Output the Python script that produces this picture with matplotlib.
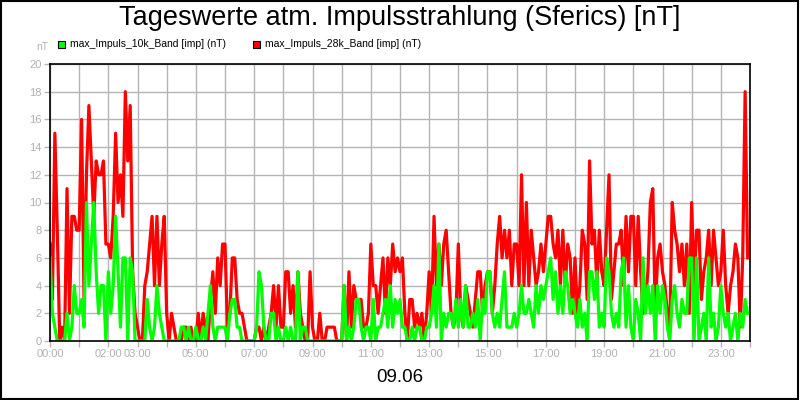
#!/usr/bin/env python3

import numpy as np
import matplotlib
matplotlib.use("Agg")
import matplotlib.pyplot as plt
from matplotlib.patches import Rectangle

plt.rcParams['font.family'] = ['Liberation Sans', 'DejaVu Sans']

# 5-minute values, one row of 12 per hour (00:00 .. 23:55)
red_28k = [
    7, 3, 15, 8, 0, 1, 0, 11, 2, 9, 9, 8,
    8, 16, 3, 12, 17, 13, 9, 13, 12, 12, 13, 7,
    7, 6, 9, 15, 10, 12, 9, 18, 13, 17, 5, 2,
    1, 0, 0, 4, 5, 7, 9, 4, 9, 4, 7, 9,
    2, 0, 2, 1, 0, 0, 0, 1, 1, 0, 1, 0,
    0, 2, 0, 2, 1, 0, 3, 5, 2, 6, 4, 7,
    7, 1, 2, 6, 6, 3, 2, 2, 1, 0, 0, 0,
    0, 1, 1, 0, 1, 0, 1, 2, 4, 1, 4, 1,
    1, 5, 5, 2, 4, 1, 5, 2, 1, 0, 0, 5,
    1, 0, 0, 2, 0, 0, 1, 1, 1, 1, 0, 0,
    0, 4, 0, 5, 1, 4, 3, 3, 3, 1, 1, 2,
    7, 4, 4, 2, 4, 6, 2, 6, 4, 7, 5, 6,
    5, 6, 2, 0, 3, 3, 1, 2, 1, 2, 0, 2,
    5, 2, 9, 4, 7, 4, 7, 8, 5, 2, 1, 2,
    7, 2, 1, 4, 3, 2, 1, 3, 5, 5, 2, 4,
    5, 5, 2, 4, 7, 9, 6, 8, 6, 8, 4, 7,
    7, 4, 12, 4, 10, 4, 8, 6, 4, 5, 7, 5,
    7, 9, 9, 7, 6, 8, 4, 8, 4, 7, 6, 2,
    6, 2, 4, 8, 7, 3, 13, 7, 8, 4, 8, 5,
    4, 8, 12, 3, 5, 7, 7, 8, 4, 9, 5, 9,
    9, 4, 9, 5, 2, 3, 5, 10, 11, 2, 6, 7,
    5, 4, 2, 1, 10, 8, 7, 5, 7, 4, 7, 2,
    10, 4, 8, 8, 3, 5, 6, 8, 4, 8, 6, 4,
    5, 8, 4, 2, 4, 5, 7, 6, 1, 6, 18, 6,
]

green_10k = [
    6, 2, 1, 0, 0, 0, 0, 2, 0, 1, 4, 2,
    2, 3, 1, 10, 4, 7, 10, 5, 2, 4, 4, 0,
    5, 2, 4, 9, 5, 1, 6, 6, 0, 6, 5, 0,
    0, 0, 0, 0, 3, 1, 0, 1, 4, 2, 1, 0,
    0, 0, 0, 0, 0, 0, 1, 1, 0, 1, 0, 0,
    1, 0, 0, 1, 0, 2, 4, 1, 0, 1, 1, 1,
    1, 0, 2, 3, 3, 1, 1, 0, 0, 0, 0, 0,
    0, 1, 5, 4, 1, 0, 0, 2, 2, 0, 1, 0,
    0, 1, 0, 1, 0, 0, 5, 0, 1, 1, 0, 0,
    0, 0, 0, 0, 0, 0, 0, 0, 0, 0, 0, 0,
    0, 4, 0, 1, 0, 1, 3, 3, 1, 0, 1, 1,
    0, 3, 0, 1, 1, 2, 3, 1, 4, 1, 3, 2,
    3, 1, 1, 0, 0, 1, 0, 1, 1, 0, 0, 1,
    1, 2, 4, 1, 7, 0, 2, 1, 2, 2, 1, 3,
    1, 3, 1, 4, 1, 1, 2, 1, 3, 0, 3, 2,
    5, 5, 2, 1, 2, 1, 3, 5, 1, 1, 1, 2,
    1, 2, 4, 2, 2, 3, 2, 1, 4, 2, 4, 3,
    4, 5, 6, 3, 5, 2, 4, 2, 5, 4, 2, 3,
    2, 1, 3, 1, 2, 0, 5, 5, 3, 5, 1, 2,
    1, 6, 5, 2, 1, 2, 1, 5, 6, 1, 4, 1,
    0, 3, 2, 0, 6, 2, 4, 2, 4, 0, 4, 2,
    4, 3, 1, 0, 3, 4, 2, 1, 3, 2, 2, 6,
    6, 0, 6, 0, 1, 2, 0, 6, 1, 2, 0, 1,
    4, 2, 1, 2, 0, 1, 2, 0, 2, 1, 3, 2,
]

hour_ticks = list(range(25))
hour_labels = ['00:00', '', '02:00', '03:00', '', '05:00', '', '07:00', '', '09:00', '',
               '11:00', '', '13:00', '', '15:00', '', '17:00', '', '19:00', '', '21:00',
               '', '23:00', '']
y_ticks = list(range(0, 21, 2))

title = 'Tageswerte atm. Impulsstrahlung (Sferics) [nT]'
date_label = '09.06'
legend_names = ['max_Impuls_10k_Band [imp] (nT)', 'max_Impuls_28k_Band [imp] (nT)']

grey = '#b4b4b4'
label_grey = '#b0b0b0'

hours = np.arange(len(red_28k)) * 5 / 60.0

fig = plt.figure(figsize=(8, 4), dpi=100)
ax = fig.add_axes([50 / 800, 59 / 400, 700 / 800, 277 / 400])

ax.plot(hours, red_28k, color='#ff0000', linewidth=2.3, zorder=3)
ax.plot(hours, green_10k, color='#00ff00', linewidth=2.3, zorder=4)

ax.set_xlim(0, 24)
ax.set_ylim(0, 20)
ax.set_xticks(hour_ticks)
ax.set_xticklabels(hour_labels)
ax.set_yticks(y_ticks)
ax.grid(True, color=grey, linewidth=1.0, zorder=0)
ax.set_axisbelow(True)
ax.tick_params(axis='both', colors=grey, labelcolor=label_grey, labelsize=8,
               length=4, width=1, pad=2)
for s in ax.spines.values():
    s.set_color('black')
    s.set_linewidth(1.2)
    s.set_zorder(5)

# figure texts
fig.text(0.5, 1 - 18 / 400, title, ha='center', va='center', fontsize=19.5)
fig.text(0.5, 1 - 378 / 400, date_label, ha='center', va='center', fontsize=13.5)
fig.text(42 / 800, 1 - 47 / 400, 'nT', ha='center', va='center', fontsize=7.5,
         color=label_grey)

# legend
for x0, name, col in [(58, legend_names[0], '#00ff00'), (253, legend_names[1], '#ff0000')]:
    fig.add_artist(Rectangle((x0 / 800, 1 - 47.5 / 400), 7 / 800, 7 / 400,
                             transform=fig.transFigure, facecolor=col,
                             edgecolor='black', linewidth=0.8))
    fig.text((x0 + 12) / 800, 1 - 44 / 400, name, ha='left', va='center', fontsize=7.5)

# frame around the whole picture
fig.add_artist(Rectangle((0.001, 0.002), 0.997, 0.996, transform=fig.transFigure,
                         fill=False, edgecolor='black', linewidth=1.5))

fig.savefig('out.png', dpi=100)
plt.close(fig)
